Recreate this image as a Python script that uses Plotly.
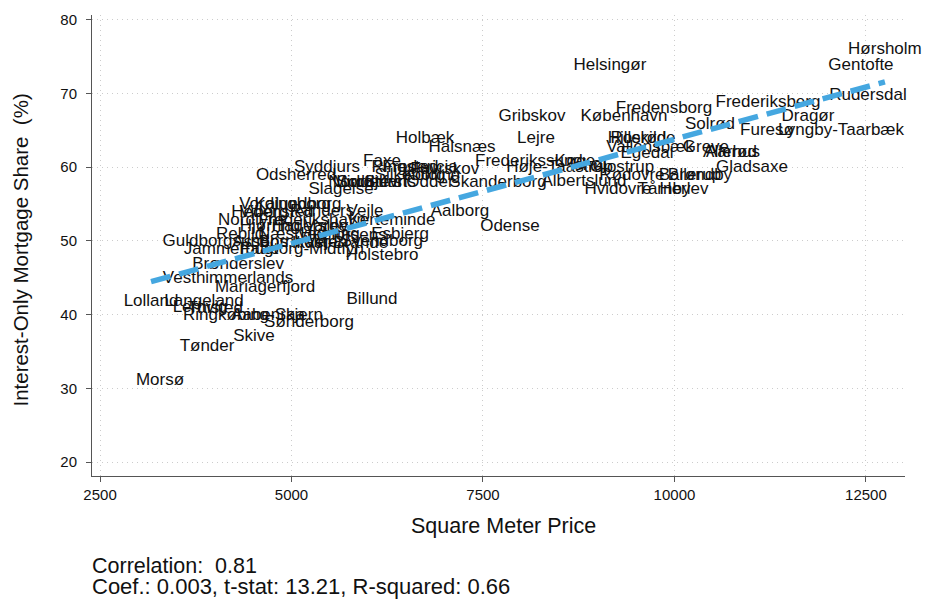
import numpy as np
import plotly.graph_objects as go

# Municipalities: square meter price and interest-only mortgage share (%)
municipality = [
    "Hørsholm", "Gentofte", "Helsingør", "Rudersdal", "Frederiksberg", "Dragør",
    "Fredensborg", "København", "Solrød", "Furesø", "Lyngby-Taarbæk", "Gribskov",
    "Lejre", "Holbæk", "Halsnæs", "Hillerød", "Roskilde", "Vallensbæk",
    "Greve", "Egedal", "Allerød", "Aarhus", "Gladsaxe", "Ballerup",
    "Brøndby", "Rødovre", "Glostrup", "Ishøj", "Høje-Taastrup", "Køge",
    "Frederikssund", "Albertslund", "Hvidovre", "Tårnby", "Herlev", "Skanderborg",
    "Odense", "Aalborg", "Billund", "Holstebro", "Esbjerg", "Svendborg",
    "Kerteminde", "Vejle", "Frederikshavn", "Nordfyns", "Vordingborg", "Kalundborg",
    "Viborg", "Randers", "Hedensted", "Haderslev", "Rebild", "Næstved",
    "Herning", "Horsens", "Guldborgsund", "Assens", "Bornholm", "Ikast-Brande",
    "Jammerbugt", "Faaborg-Midtfyn", "Brønderslev", "Vesthimmerlands", "Mariagerfjord", "Lolland",
    "Langeland", "Lemvig", "Thisted", "Ringkøbing-Skjern", "Aabenraa", "Sønderborg",
    "Skive", "Tønder", "Morsø", "Syddjurs", "Odsherred", "Slagelse",
    "Faxe", "Fredericia", "Ringsted", "Kolding", "Silkeborg", "Middelfart",
    "Sorø", "Stevns", "Odder", "Norddjurs", "Hjørring", "Varde",
    "Vejen", "Favrskov",
]

sqm_price = [
    12748, 12435, 9158, 12526, 11221, 11743,
    9863, 9341, 10464, 11208, 12174, 8140,
    8192, 6743, 7226, 9510, 9589, 9680,
    10411, 9641, 10725, 10764, 11012, 10202,
    10333, 9445, 9315, 8870, 8500, 8700,
    8100, 8819, 9262, 9863, 10124, 7696,
    7852, 7200, 6051, 6181, 6417, 6181,
    6312, 5960, 5268, 4484, 4915, 5085,
    4640, 5400, 4750, 5242, 4328, 5007,
    5503, 5829, 4014, 4589, 5046, 5633,
    4210, 5137, 4302, 4171, 4654, 3166,
    3858, 3806, 4001, 4497, 4693, 5228,
    4510, 3897, 3283, 5463, 5059, 5646,
    6181, 6678, 6482, 6834, 6547, 6025,
    5829, 6286, 6808, 5960, 4719, 5450,
    5450, 7000,
]

io_share = [
    75.9, 73.7, 73.7, 69.7, 68.8, 66.8,
    67.9, 66.8, 65.7, 64.9, 64.9, 66.8,
    63.8, 63.8, 62.7, 63.8, 63.8, 62.7,
    62.7, 61.8, 61.9, 61.9, 59.9, 58.9,
    58.9, 58.9, 59.9, 60.2, 59.9, 60.8,
    60.8, 58.0, 56.9, 56.9, 56.9, 57.9,
    51.9, 53.9, 42.0, 48.0, 50.9, 49.9,
    52.8, 53.9, 52.8, 52.8, 54.9, 54.9,
    53.8, 53.9, 53.8, 51.9, 50.8, 50.8,
    50.8, 50.7, 49.9, 49.7, 49.7, 49.6,
    48.8, 48.8, 46.7, 44.8, 43.7, 41.8,
    41.8, 40.9, 40.8, 39.8, 39.8, 38.9,
    37.0, 35.7, 31.0, 59.9, 58.8, 56.9,
    60.8, 59.9, 59.9, 58.8, 58.8, 57.9,
    57.9, 57.9, 57.9, 57.9, 51.9, 51.9,
    49.7, 59.6,
]

x_ticks = [2500, 5000, 7500, 10000, 12500]
y_ticks = [20, 30, 40, 50, 60, 70, 80]

correlation_txt = "Correlation:  0.81"
regression_txt = "Coef.: 0.003, t-stat: 13.21, R-squared: 0.66"

FONT = "Liberation Sans, Arial, sans-serif"

x = np.array(sqm_price, dtype=float)
y = np.array(io_share, dtype=float)
slope, intercept = np.polyfit(x, y, 1)
fit_x = np.array([x.min(), x.max()])
fit_y = intercept + slope * fit_x

fig = go.Figure()

fig.add_trace(go.Scatter(
    x=sqm_price, y=io_share, text=municipality,
    mode="text", textposition="middle center", cliponaxis=False,
    textfont=dict(family=FONT, size=17, color="#111111"),
    hoverinfo="text", showlegend=False,
))

fig.add_trace(go.Scatter(
    x=fit_x, y=fit_y, mode="lines", cliponaxis=False,
    line=dict(color="#45a7e0", width=5.5, dash="20px,9px"),
    hoverinfo="skip", showlegend=False,
))

axis_common = dict(
    showline=True, linecolor="#555555", linewidth=1,
    ticks="outside", ticklen=5, tickcolor="#555555", tickwidth=1,
    showgrid=True, gridcolor="#cccccc", gridwidth=1, griddash="1px,4px",
    zeroline=False,
    tickfont=dict(family=FONT, size=15, color="#111111"),
)

fig.update_xaxes(range=[2395, 13010], tickvals=x_ticks,
                 ticktext=[str(v) for v in x_ticks], **axis_common)
fig.update_yaxes(range=[18.1, 80.65], tickvals=y_ticks,
                 ticktext=[str(v) for v in y_ticks],
                 ticklabelstandoff=6, **axis_common)

fig.update_layout(
    width=927, height=601,
    margin=dict(l=92, r=22, t=15, b=125),
    paper_bgcolor="white", plot_bgcolor="white",
    font=dict(family=FONT, color="#111111"),
    annotations=[
        dict(text="Square Meter Price", xref="paper", yref="paper",
             x=0.506, y=-0.078, xanchor="center", yanchor="top",
             showarrow=False, font=dict(family=FONT, size=21.5)),
        dict(text="Interest-Only Mortgage Share  (%)", xref="paper", yref="paper",
             x=-0.088, y=0.49, xanchor="center", yanchor="middle", textangle=-90,
             showarrow=False, font=dict(family=FONT, size=20.5)),
        dict(text=correlation_txt, xref="paper", yref="paper",
             x=-0.002, y=-0.165, xanchor="left", yanchor="top",
             showarrow=False, font=dict(family=FONT, size=21.5)),
        dict(text=regression_txt, xref="paper", yref="paper",
             x=-0.002, y=-0.209, xanchor="left", yanchor="top",
             showarrow=False, font=dict(family=FONT, size=22)),
    ],
)

fig.write_html("out.html")
